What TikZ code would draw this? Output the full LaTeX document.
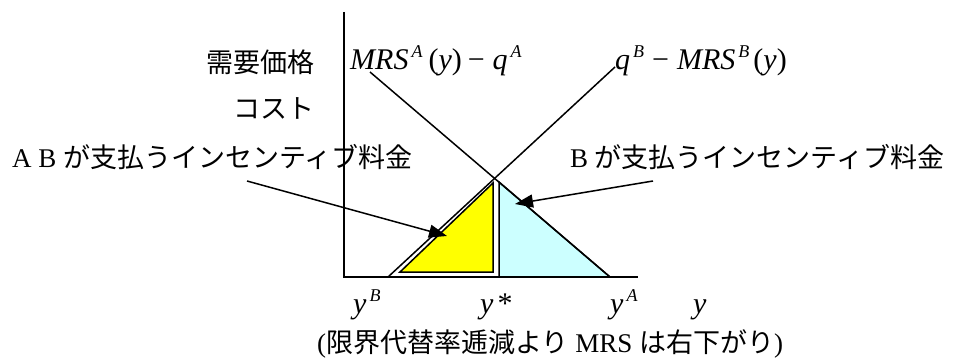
\documentclass[tikz,border=0pt]{standalone}
\usepackage{fontspec}
\setmainfont{Liberation Serif}
\newfontfamily\jpfont{Noto Sans CJK JP}
\usetikzlibrary{arrows.meta}
\definecolor{fillY}{HTML}{FFFF00}
\definecolor{fillB}{HTML}{CCFFFF}
\newcommand{\jp}[1]{{\jpfont #1}}
\newcommand{\sups}[1]{\hspace{3pt}\raisebox{12pt}{\fontsize{18}{18}\selectfont\itshape #1}}

\begin{document}
\begin{tikzpicture}[x=1pt, y=-1pt, >={Triangle[length=18pt,width=13pt]},
  font=\fontsize{27}{30}\selectfont, every node/.style={inner sep=0pt},
  mathlbl/.style={anchor=base west, font=\fontsize{30}{32}\selectfont}]
  \useasboundingbox (0,0) rectangle (957,363);
  % Plochy
  \filldraw[fill=fillY, line width=1.5pt] (400,272) -- (493,272) -- (493,183) -- cycle;
  \filldraw[fill=fillB, line width=1.5pt] (499,182) -- (499,277) -- (610,277) -- cycle;
  % Osy
  \coordinate (O) at (344,277);
  \coordinate (ytop) at (344,12);
  \coordinate (xend) at (638,277);
  \draw[line width=1.6pt] (ytop) -- (O) -- (xend);
  % Krivky
  \coordinate (topA) at (370,72);
  \coordinate (yA) at (610,277);
  \coordinate (topB) at (615,67);
  \coordinate (yB) at (388,277);
  \draw[line width=1.5pt] (topA) -- (yA);
  \draw[line width=1.5pt] (yB) -- (topB);
  % Popisy
  \node[anchor=east] (price) at (315,62) {\jp{需要価格}};
  \node[anchor=east] (cost) at (315,108) {\jp{コスト}};
  \node[mathlbl] (mrsA) at (350,70)
    {\textit{MRS}\sups{A}\hspace{6pt}(\textit{y})\hspace{6pt}−\hspace{8pt}\textit{q}\sups{A}};
  \node[mathlbl] (mrsB) at (615,70)
    {\textit{q}\sups{B}\hspace{8pt}−\hspace{8pt}\textit{MRS}\sups{B}\hspace{4pt}(\textit{y})};
  \node[anchor=west] (payAB) at (12,157) {A B \jp{が支払うインセンティブ料金}};
  \node[anchor=west] (payB) at (570,157) {B \jp{が支払うインセンティブ料金}};
  % Sipky
  \coordinate (tailAB) at (247,181);
  \coordinate (tipAB) at (447,236);
  \coordinate (tailB) at (653,181);
  \coordinate (tipB) at (515,204);
  \draw[->, line width=1.5pt] (tailAB) -- (tipAB);
  \draw[->, line width=1.5pt] (tailB) -- (tipB);
  % Osa y
  \node[mathlbl] (lyB) at (353,313) {\textit{y}\sups{B}};
  \node[mathlbl] (lys) at (480,313) {\textit{y}\hspace{4pt}*};
  \node[mathlbl] (lyA) at (610,313) {\textit{y}\sups{A}};
  \node[mathlbl] (ly) at (693,313) {\textit{y}};
  \node[anchor=west] (note) at (317,344)
    {(\jp{限界代替率逓減より} MRS \jp{は右下がり})};
\end{tikzpicture}
\end{document}
